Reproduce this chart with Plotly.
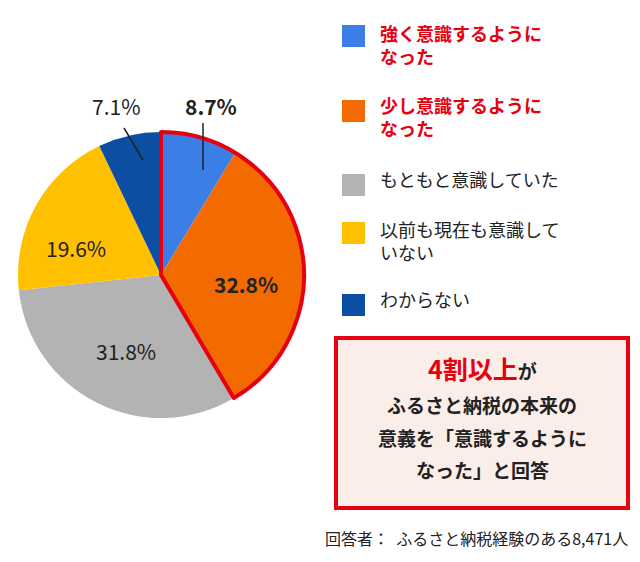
import plotly.graph_objects as go

labels = ["強く意識するようになった", "少し意識するようになった", "もともと意識していた", "以前も現在も意識していない", "わからない"]
values = [8.7, 32.8, 31.8, 19.6, 7.1]
colors = ["#3b7fe6", "#f26a00", "#b3b3b3", "#ffc000", "#0b4ea2"]
legend_text = ["強く意識するように<br>なった", "少し意識するように<br>なった", "もともと意識していた", "以前も現在も意識して<br>いない", "わからない"]
highlight = [values[0] + values[1], sum(values[2:])]

W, H = 640, 562
def px(x): return x / W
def py(y): return 1 - y / H

dom = dict(x=[px(10), px(296)], y=[py(410), py(124)])
fig = go.Figure()
fig.add_trace(go.Pie(values=values, labels=labels, sort=False, direction="clockwise", rotation=0,
                     marker=dict(colors=colors, line=dict(color="white", width=0)),
                     textinfo="none", hoverinfo="label+percent", domain=dom, showlegend=False))
fig.add_trace(go.Pie(values=highlight, sort=False, direction="clockwise", rotation=0,
                     marker=dict(colors=["rgba(0,0,0,0)", "rgba(0,0,0,0)"], line=dict(color=["#e60012", "rgba(0,0,0,0)"], width=[4, 0])),
                     textinfo="none", hoverinfo="skip", domain=dom, showlegend=False))

F = "Noto Sans CJK JP"
ann = []
def t(x, y, s, size=21, color="#222", bold=False, xa="center"):
    ann.append(dict(x=px(x), y=py(y), xref="paper", yref="paper", text=f"<b>{s}</b>" if bold else s,
                    showarrow=False, xanchor=xa, yanchor="middle", font=dict(family=F, size=size, color=color)))
t(108, 98, f"{values[4]}%")
t(203, 98, f"{values[0]}%", bold=True)
t(238, 276, f"{values[1]}%", bold=True)
t(118, 343, f"{values[2]}%")
t(68, 240, f"{values[3]}%")

shapes = [dict(type="line", xref="paper", yref="paper", x0=px(116), y0=py(120), x1=px(135), y1=py(152), line=dict(color="#222", width=1.5)),
          dict(type="line", xref="paper", yref="paper", x0=px(195), y0=py(115), x1=px(195), y1=py(162), line=dict(color="#222", width=1.5))]

ys = [28, 103, 177, 225, 297]
tys = [36, 108, 171, 232, 291]
for i in range(5):
    shapes.append(dict(type="rect", xref="paper", yref="paper", x0=px(334), x1=px(357), y0=py(ys[i] - 11), y1=py(ys[i] + 11), fillcolor=colors[i], line=dict(width=0)))
    red = i < 2
    ann.append(dict(x=px(370), y=py(tys[i]), xref="paper", yref="paper", text=f"<b>{legend_text[i]}</b>" if red else legend_text[i],
                    showarrow=False, xanchor="left", yanchor="middle", align="left",
                    font=dict(family=F, size=18, color="#e60012" if red else "#222")))

shapes.append(dict(type="rect", xref="paper", yref="paper", x0=px(328), x1=px(620), y0=py(500), y1=py(330), fillcolor="#fbeee8", line=dict(color="#e60012", width=4)))
t(474, 360, "<span style='color:#e60012;font-size:25px'>4割以上</span>が", size=19, bold=True)
t(474, 396, "ふるさと納税の本来の", size=19, bold=True)
t(474, 429, "意義を「意識するように", size=19, bold=True)
t(474, 461, "なった」と回答", size=19, bold=True)
t(622, 530, "回答者：  ふるさと納税経験のある8,471人", size=16, xa="right")

fig.update_layout(width=W, height=H, margin=dict(l=0, r=0, t=0, b=0), paper_bgcolor="white",
                  annotations=ann, shapes=shapes)
fig.write_html("out.html")
